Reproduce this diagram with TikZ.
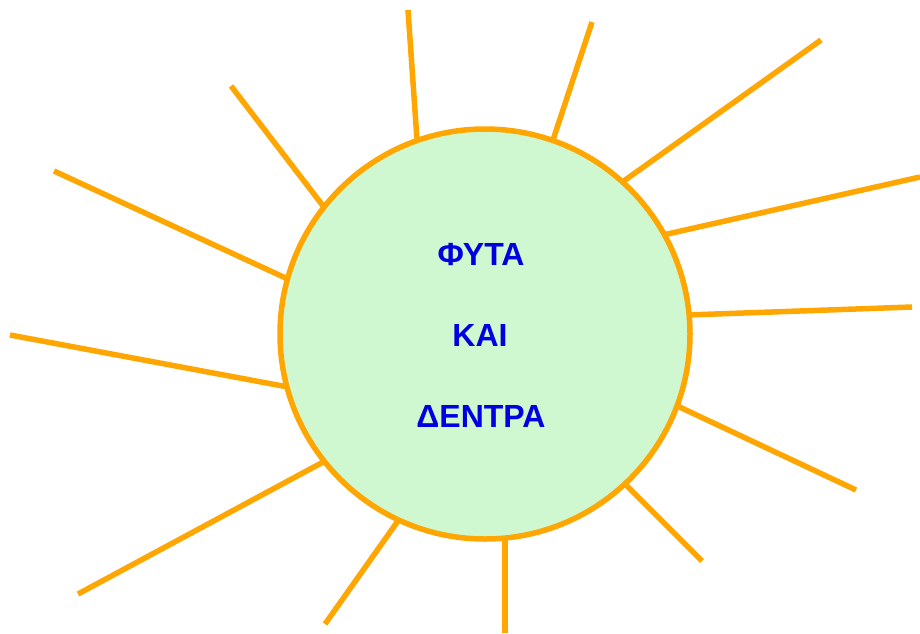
\documentclass[tikz,border=0pt]{standalone}
\usepackage{fontspec}
\setmainfont{Liberation Sans}
\definecolor{rayorange}{RGB}{255,166,0}
\definecolor{sunfill}{RGB}{208,248,208}
\definecolor{txtblue}{RGB}{0,0,225}
\begin{document}
\begin{tikzpicture}[x=1pt,y=-1pt,
  ray/.style={draw=rayorange,line width=5.5pt},
  sun/.style={circle,draw=rayorange,line width=5.5pt,fill=sunfill,minimum size=410pt,inner sep=0pt},
  lbl/.style={text=txtblue,font=\fontsize{32}{38}\selectfont\bfseries,inner sep=0pt}]
\useasboundingbox (0,0) rectangle (920,633);
% ray end points
\foreach \n/\ox/\oy/\ix/\iy in {
  1/408/10/417/140, 2/592/22/553/140, 3/821/40/621/183, 4/920/177/663/235,
  5/912/307/687/315, 6/856/490/671/403, 7/702/561/619/478, 8/505/633/505/535,
  9/325/624/400/518, 10/78/594/325/461, 11/10/335/288/387, 12/54/171/290/280,
  13/231/86/327/211}{
  \coordinate (o\n) at (\ox,\oy);
  \coordinate (i\n) at (\ix,\iy);
  \draw[ray] (o\n) -- (i\n);
}
\node[sun] (c) at (485,334) {};
\node[lbl] (t1) at (481,254) {ΦΥΤΑ};
\node[lbl] (t2) at (480,335) {ΚΑΙ};
\node[lbl] (t3) at (481,416) {ΔΕΝΤΡΑ};
\end{tikzpicture}
\end{document}
